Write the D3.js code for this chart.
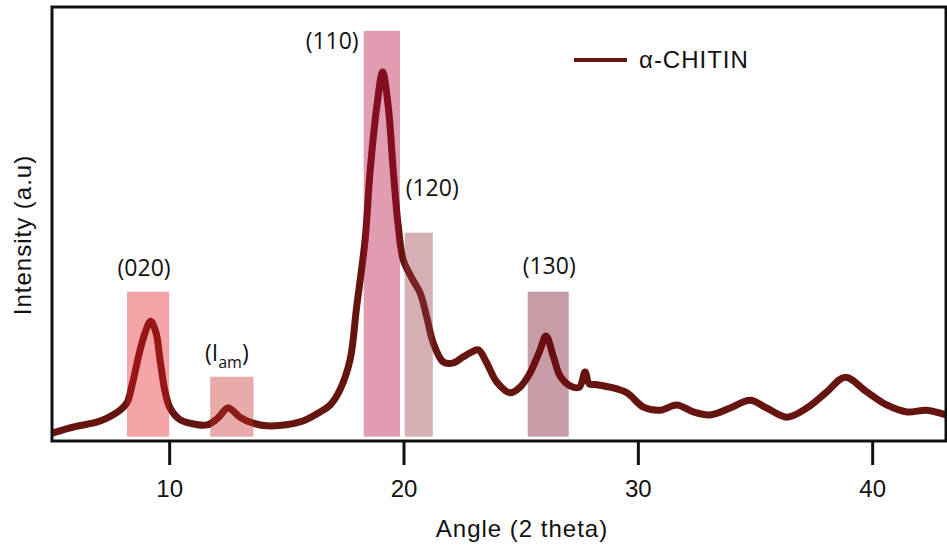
<!DOCTYPE html>
<html><head><meta charset="utf-8">
<script src="https://cdn.jsdelivr.net/npm/d3@7"></script>
<style>body{margin:0;background:#fff} svg{display:block}</style>
</head><body><svg id="c" width="947" height="547"></svg>
<script>
// ---- data ----
const angles = [5.00, 5.98, 7.05, 7.90, 8.20, 8.40, 8.76, 8.97, 9.21, 9.44, 9.61, 9.82, 10.04, 10.46, 10.89,
  11.62, 12.08, 12.51, 13.02, 13.58, 14.18, 15.58, 16.44, 16.87, 17.29, 17.72, 18.00, 18.36, 18.57, 18.86,
  19.11, 19.35, 19.57, 19.78, 19.99, 20.35, 20.71, 20.99, 21.27, 21.70, 22.13, 22.55, 22.84, 23.19, 23.55,
  23.98, 24.55, 24.97, 25.40, 25.83, 26.08, 26.40, 26.68, 27.11, 27.50, 27.75, 27.92, 28.20, 28.82, 29.53,
  30.24, 30.95, 31.66, 32.37, 33.08, 33.94, 34.79, 35.50, 36.36, 37.21, 38.06, 38.85, 39.77, 40.62, 41.48,
  42.33, 43.15];
const intensity = [1.8, 3.3, 4.6, 7.1, 8.8, 12.5, 21.0, 24.9, 27.6, 24.9, 18.7, 11.5, 7.6, 4.9, 4.1,
  3.7, 5.3, 7.6, 5.5, 4.1, 3.5, 4.4, 6.7, 8.3, 11.8, 18.7, 30.9, 46.3, 61.8, 77.0,
  85.0, 77.0, 61.8, 49.3, 41.7, 37.6, 34.1, 28.6, 22.6, 18.2, 18.0, 19.4, 20.3, 21.0, 18.0,
  13.6, 11.1, 12.4, 15.7, 21.0, 24.2, 19.4, 15.0, 12.7, 12.4, 15.9, 13.2, 13.0, 12.4, 11.1,
  7.8, 7.1, 8.3, 6.7, 6.0, 7.6, 9.4, 7.6, 5.5, 7.6, 11.3, 14.7, 11.3, 8.3, 6.7,
  7.1, 6.0];
const bandLabels = ["(020)", "(I|am|)", "(110)", "(120)", "(130)"];
const bandStart = [8.2, 11.75, 18.3, 20.05, 25.3];
const bandEnd = [10.0, 13.6, 19.85, 21.25, 27.05];
const bandTop = [34.4, 14.8, 94.5, 48.0, 34.4];
const bandBase = 1.0;
const xTicks = [10, 20, 30, 40];
const seriesName = "α-CHITIN";
const xTitle = "Angle (2 theta)";
const yTitle = "Intensity (a.u)";

// ---- styles / layout ----
const bandColors = ["#e41921", "#c62d2b", "#b2083a", "#943744", "#76081c"];
const labelLayout = [
  {anchor: "middle", ref: "center", dx: -4, dy: -16},
  {anchor: "middle", ref: "center", dx: -5, dy: -16},
  {anchor: "end", ref: "start", dx: -5, dy: 18},
  {anchor: "start", ref: "start", dx: 1, dy: -37},
  {anchor: "middle", ref: "center", dx: 1, dy: -18}
];
const lineColor = "#66140f";
const W = 947, H = 547;
const m = {left: 52, right: 1, top: 7, bottom: 106};

const svg = d3.select("#c");
const x = d3.scaleLinear().domain([5, 43.15]).range([m.left, W - m.right]);
const y = d3.scaleLinear().domain([0, 100]).range([H - m.bottom, m.top]);

svg.append("clipPath").attr("id", "clip").append("rect")
  .attr("x", m.left).attr("y", m.top).attr("width", W - m.right - m.left).attr("height", H - m.bottom - m.top);

const pts = angles.map((a, i) => [a, intensity[i]]);
svg.append("path").datum(pts)
  .attr("clip-path", "url(#clip)")
  .attr("fill", "none").attr("stroke", lineColor).attr("stroke-width", 7)
  .attr("stroke-linejoin", "round").attr("stroke-linecap", "round")
  .attr("d", d3.line().x(d => x(d[0])).y(d => y(d[1])).curve(d3.curveCatmullRom.alpha(0.5)));

// bands
svg.append("g").selectAll("rect").data(bandStart).join("rect")
  .attr("x", (d, i) => x(d)).attr("width", (d, i) => x(bandEnd[i]) - x(d))
  .attr("y", (d, i) => y(bandTop[i])).attr("height", (d, i) => y(bandBase) - y(bandTop[i]))
  .attr("fill", (d, i) => bandColors[i]).attr("fill-opacity", 0.4);

// labels
const lab = svg.append("g").attr("font-family", "'Open Sans', sans-serif").attr("font-size", 23).attr("fill", "#111");
bandLabels.forEach((t, i) => {
  const L = labelLayout[i];
  const bx = L.ref === "center" ? (x(bandStart[i]) + x(bandEnd[i])) / 2 : x(bandStart[i]);
  const txt = lab.append("text").attr("x", bx + L.dx).attr("y", y(bandTop[i]) + L.dy).attr("text-anchor", L.anchor);
  const parts = t.split("|");
  if (parts.length === 1) txt.text(t);
  else {
    txt.append("tspan").text(parts[0]);
    txt.append("tspan").attr("font-size", 16).attr("dy", 7).text(parts[1]);
    txt.append("tspan").attr("dy", -7).text(parts[2]);
  }
});

// frame
svg.append("rect").attr("x", m.left).attr("y", m.top)
  .attr("width", W - m.right - m.left).attr("height", H - m.bottom - m.top)
  .attr("fill", "none").attr("stroke", "#111").attr("stroke-width", 3);

// x axis
const ax = svg.append("g").attr("transform", `translate(0,${H - m.bottom})`)
  .call(d3.axisBottom(x).tickValues(xTicks).tickFormat(d3.format("d")).tickSize(24).tickPadding(15));
ax.select(".domain").remove();
ax.selectAll("line").attr("stroke", "#111").attr("stroke-width", 3);
ax.selectAll("text").attr("font-family", "'Liberation Sans', Arial, sans-serif").attr("font-size", 24).attr("fill", "#111");

const tf = "'Liberation Sans', Arial, sans-serif";
svg.append("text").attr("x", 522).attr("y", 537).attr("text-anchor", "middle")
  .attr("font-family", tf).attr("font-size", 24).attr("letter-spacing", 1).attr("fill", "#111").text(xTitle);
svg.append("text").attr("transform", "translate(31,235) rotate(-90)").attr("text-anchor", "middle")
  .attr("font-family", tf).attr("font-size", 24).attr("letter-spacing", 1).attr("fill", "#111").text(yTitle);

// legend
svg.append("line").attr("x1", 574).attr("x2", 627).attr("y1", 60).attr("y2", 60)
  .attr("stroke", lineColor).attr("stroke-width", 4);
svg.append("text").attr("x", 639).attr("y", 68).attr("font-family", tf).attr("font-size", 24)
  .attr("letter-spacing", 1).attr("fill", "#111").text(seriesName);
</script>
</body></html>
